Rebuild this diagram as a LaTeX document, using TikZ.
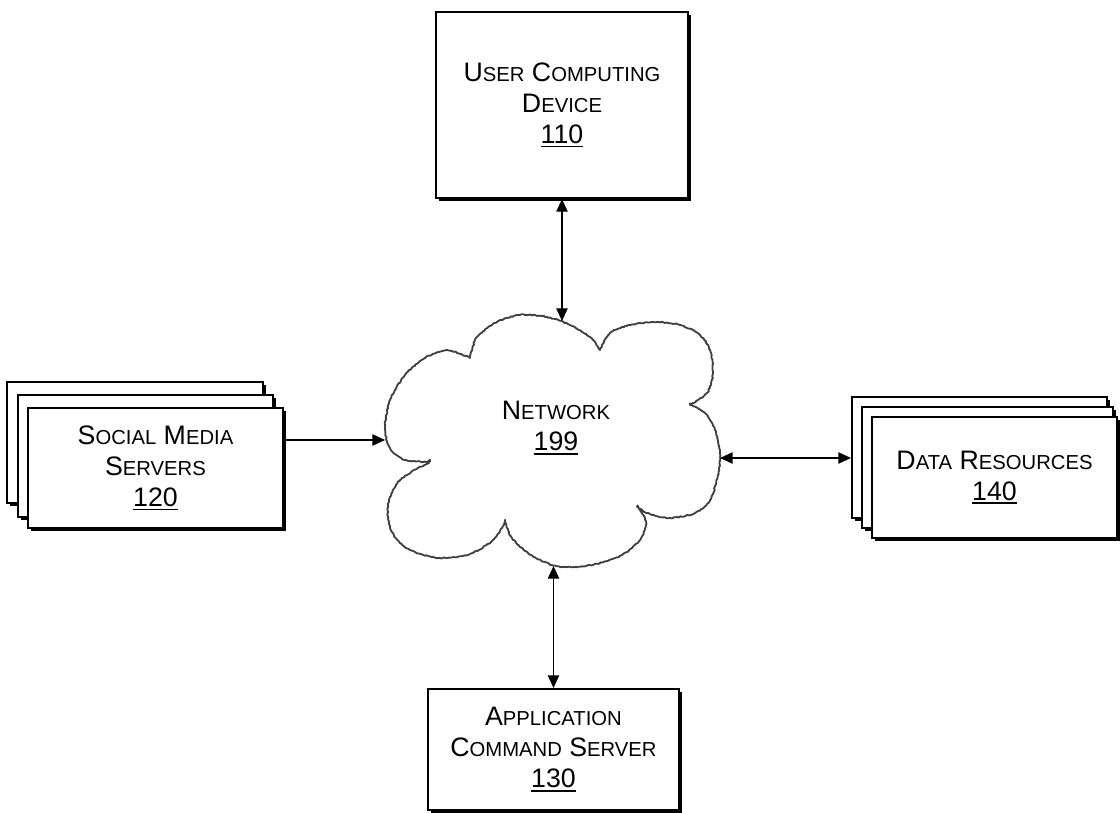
\documentclass[tikz,border=0pt]{standalone}
\usepackage{fontspec}
\setmainfont{Liberation Sans}
\usetikzlibrary{arrows.meta,shadows,decorations.pathmorphing}

\newcommand\sm[1]{{\fontsize{14.4}{22}\selectfont #1}}
\newcommand\refnum[1]{\setbox0\hbox{#1}\rlap{\raisebox{-2.8pt}{\rule{\wd0}{1.2pt}}}\box0}

\begin{document}
\begin{tikzpicture}[x=0.025cm, y=-0.025cm,
  box/.style={draw, line width=1.4pt, fill=white, rectangle, align=center,
    font=\fontsize{19}{22}\selectfont,
    drop shadow={shadow xshift=2pt, shadow yshift=-2pt, opacity=1, fill=black}},
  arr/.style={line width=1.2pt, -{Triangle[length=9pt,width=8pt]}},
  dbl/.style={line width=1.2pt, {Triangle[length=9pt,width=8pt]}-{Triangle[length=9pt,width=8pt]}},
  cloudline/.style={draw=black!75, line width=1.3pt, line join=round,
    decorate, decoration={random steps, segment length=1.2pt, amplitude=0.4pt}}]
\useasboundingbox (0,0) rectangle (1120,813);

% boxes
\node[box, minimum width=6.3cm, minimum height=4.65cm] (user) at (562,105)
  {U\sm{SER} C\sm{OMPUTING}\\ D\sm{EVICE}\\ \refnum{110}};

\node[box, minimum width=6.4cm, minimum height=3.025cm] (smback) at (135,442.5) {};
\node[box, minimum width=6.375cm, minimum height=3.05cm] (smmid) at (145.5,456) {};
\node[box, minimum width=6.375cm, minimum height=3cm] (smfront) at (155.5,468)
  {S\sm{OCIAL} M\sm{EDIA}\\ S\sm{ERVERS}\\ \refnum{120}};

\node[box, minimum width=6.375cm, minimum height=3.025cm] (drback) at (979.5,457.5) {};
\node[box, minimum width=6.275cm, minimum height=3.025cm] (drmid) at (987.5,467.5) {};
\node[box, minimum width=6.125cm, minimum height=3.025cm] (drfront) at (994.5,477.5)
  {D\sm{ATA} R\sm{ESOURCES}\\ \refnum{140}};

\node[box, minimum width=6.275cm, minimum height=3.025cm] (app) at (553.5,749.5)
  {A\sm{PPLICATION}\\ C\sm{OMMAND} S\sm{ERVER}\\ \refnum{130}};

% cloud
\draw[cloudline]
  plot[smooth] coordinates {(430,462) (405,460) (390,448) (385,428) (390,400) (405,375) (425,358) (447,350) (470,358)}
  -- plot[smooth] coordinates {(470,358) (477,337) (497,322) (520,315) (547,317) (570,325) (590,337) (600,350)}
  -- plot[smooth] coordinates {(600,350) (610,333) (630,325) (653,322) (680,325) (700,335) (710,350) (713,373) (707,393) (690,405)}
  -- plot[smooth] coordinates {(690,405) (705,413) (715,430) (720,452) (718,475) (710,500) (695,513) (670,518) (650,514) (637,507)}
  -- plot[smooth] coordinates {(637,507) (646,522) (640,540) (622,555) (600,563) (575,567) (552,565) (528,553) (512,538) (505,522)}
  -- plot[smooth] coordinates {(505,522) (493,540) (470,554) (440,558) (410,550) (392,532) (388,505) (400,480) (430,462)}
  -- cycle;
\node[font=\fontsize{19}{22}\selectfont, align=center] (net) at (556,428)
  {N\sm{ETWORK}\\ \refnum{199}};
\coordinate (nettop) at (562,321);
\coordinate (netbot) at (553.5,566);
\coordinate (netwest) at (385,440);
\coordinate (neteast) at (720,458);

% connectors
\draw[dbl] (user.south) -- (nettop);
\draw[arr] (netwest -| smfront.east) -- (netwest);
\draw[dbl] (neteast) -- (neteast -| drback.west);
\draw[dbl] (netbot) -- (app.north);

\end{tikzpicture}
\end{document}
